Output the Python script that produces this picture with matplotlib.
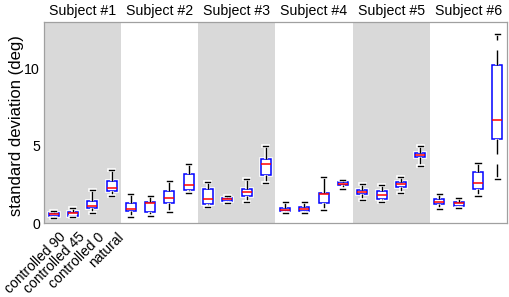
import numpy as np
import matplotlib
matplotlib.use('Agg')
import matplotlib.pyplot as plt
import matplotlib.patheffects as pe
import matplotlib.transforms as mtransforms

plt.rcParams['font.family'] = ['Liberation Sans', 'DejaVu Sans']
plt.rcParams['lines.scale_dashes'] = False

subjects = ['Subject #1', 'Subject #2', 'Subject #3',
            'Subject #4', 'Subject #5', 'Subject #6']
conditions = ['controlled 90', 'controlled 45', 'controlled 0', 'natural']

# box statistics, 4 conditions per subject (deg)
whislo = [0.30, 0.39, 0.67, 1.75,
          0.39, 0.47, 0.71, 1.97,
          1.02, 1.32, 1.38, 2.58,
          0.67, 0.67, 0.86, 2.20,
          1.47, 1.38, 1.97, 3.72,
          0.93, 1.00, 1.77, 2.84]
q1 = [0.47, 0.45, 1.00, 2.06,
      0.76, 0.69, 1.28, 2.16,
      1.25, 1.41, 1.77, 3.10,
      0.76, 0.80, 1.32, 2.45,
      1.86, 1.56, 2.36, 4.28,
      1.23, 1.12, 2.19, 5.45]
med = [0.56, 0.63, 1.10, 2.25,
       0.91, 1.28, 1.64, 2.45,
       1.58, 1.54, 2.01, 3.81,
       0.86, 0.91, 1.90, 2.55,
       2.01, 1.84, 2.53, 4.43,
       1.38, 1.28, 2.58, 6.64]
q3 = [0.67, 0.73, 1.45, 2.75,
      1.28, 1.38, 2.10, 3.20,
      2.23, 1.64, 2.23, 4.14,
      1.00, 1.06, 1.97, 2.64,
      2.16, 2.08, 2.64, 4.56,
      1.54, 1.38, 3.33, 10.21]
whishi = [0.80, 0.95, 2.14, 3.44,
          1.86, 1.77, 2.75, 3.81,
          2.68, 1.75, 2.88, 4.95,
          1.34, 1.34, 3.00, 2.81,
          2.51, 2.47, 3.00, 4.95,
          1.86, 1.60, 3.85, 12.20]

stats = [dict(whislo=a, q1=b, med=c, q3=d, whishi=e, fliers=[])
         for a, b, c, d, e in zip(whislo, q1, med, q3, whishi)]
pos = np.arange(1, len(stats) + 1)

fig = plt.figure(figsize=(5.1, 2.97), dpi=100)
ax = fig.add_axes([0.0863, 0.249, 0.9077, 0.677])

n = len(conditions)
for i, s in enumerate(subjects):
    if i % 2 == 0:
        ax.axvspan(i * n + 0.5, (i + 1) * n + 0.5, color='#d9d9d9', lw=0, zorder=0)
    ax.text(i * n + 0.5 + n / 2, 13.25, s, ha='center', va='bottom', fontsize=10.2)

halo = [pe.withStroke(linewidth=2.6, foreground='white')]
bp = ax.bxp(stats, positions=pos, widths=0.52, patch_artist=True,
            showfliers=False, capwidths=0.26,
            boxprops=dict(facecolor='white', edgecolor='#0000ff', lw=1.1),
            medianprops=dict(color='#ff0000', lw=1.1),
            whiskerprops=dict(color='black', lw=1.0, linestyle=(0, (10.8, 7.2))),
            capprops=dict(color='black', lw=1.0))
for key in ['boxes', 'whiskers', 'caps']:
    for art in bp[key]:
        art.set_path_effects(halo)
        art.set_zorder(2)
for art in bp['medians']:
    art.set_zorder(3)

ax.set_xlim(0.5, len(stats) + 0.5)
ax.set_ylim(0, 13)
ax.set_yticks([0, 5, 10])
ax.set_xticks([])

# rotated condition labels under the first subject
shift = mtransforms.ScaledTranslation(10 / 100, -12 / 100, fig.dpi_scale_trans)
for x, lab in zip(pos[:n], conditions):
    ax.text(x, 0, lab, rotation=45, ha='right', va='center',
            rotation_mode='anchor', fontsize=10,
            transform=ax.get_xaxis_transform() + shift)

ax.tick_params(axis='both', length=0)
ax.tick_params(axis='y', labelsize=10.2, pad=3)
ax.set_ylabel('standard deviation (deg)', fontsize=12)
ax.yaxis.set_label_coords(-0.043, 0.485)
for sp in ax.spines.values():
    sp.set_color('#a0a0a0')
    sp.set_linewidth(0.9)

fig.savefig('out.png', dpi=100)
